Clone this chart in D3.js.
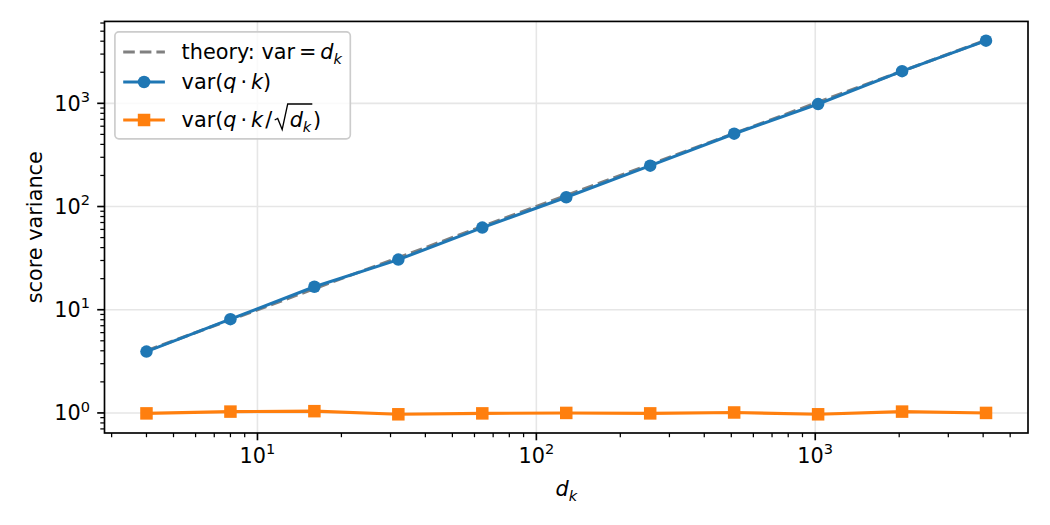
<!DOCTYPE html>
<html>
<head>
<meta charset="utf-8">
<script src="https://cdn.jsdelivr.net/npm/d3@7"></script>
<style>
  body { margin: 0; background: #fff; }
  svg text { font-family: "DejaVu Sans", sans-serif; fill: #000; }
</style>
</head>
<body>
<svg id="chart" width="1050" height="525"></svg>
<script>
// ---------- data
const dk = [4, 8, 16, 32, 64, 128, 256, 512, 1024, 2048, 4096];
const theoryVar = [4, 8, 16, 32, 64, 128, 256, 512, 1024, 2048, 4096];
const varRaw = [3.93, 8.1, 16.7, 30.6, 62.5, 123, 249, 508, 984, 2050, 4050];
const varScaled = [0.99, 1.03, 1.04, 0.97, 0.99, 1.0, 0.99, 1.01, 0.97, 1.03, 1.0];

const xMajor = [10, 100, 1000];
const yMajor = [1, 10, 100, 1000];

const blue = "#1f77b4", orange = "#ff7f0e", gray = "#808080";
const fs = 20.8; // 10pt @ 150dpi

// ---------- frame
const svg = d3.select("#chart");
const plotLeft = 104.5, plotRight = 1028, plotBottom = 433;

// matplotlib style 5% log margins
function logPad(lo, hi) {
  const a = Math.log10(lo), b = Math.log10(hi), p = (b - a) * 0.05;
  return [Math.pow(10, a - p), Math.pow(10, b + p)];
}
const xDom = logPad(d3.min(dk), d3.max(dk));
const allY = theoryVar.concat(varRaw, varScaled);
const yDom = logPad(d3.min(allY), d3.max(allY));

// keep ~103 px per decade like the reference
const perDecade = 103.2;
const plotTop = plotBottom - perDecade * (Math.log10(yDom[1]) - Math.log10(yDom[0]));

const x = d3.scaleLog().domain(xDom).range([plotLeft, plotRight]);
const y = d3.scaleLog().domain(yDom).range([plotBottom, plotTop]);

function minorTicks(dom) {
  const out = [];
  for (let e = Math.floor(Math.log10(dom[0])); e <= Math.ceil(Math.log10(dom[1])); e++) {
    for (let k = 2; k <= 9; k++) {
      const v = k * Math.pow(10, e);
      if (v >= dom[0] && v <= dom[1]) out.push(v);
    }
  }
  return out;
}

// ---------- grid
const grid = svg.append("g");
grid.selectAll(".gx").data(xMajor).join("line")
  .attr("x1", d => x(d)).attr("x2", d => x(d)).attr("y1", plotTop).attr("y2", plotBottom)
  .attr("stroke", "#e6e6e6").attr("stroke-width", 1.6);
grid.selectAll(".gy").data(yMajor).join("line")
  .attr("y1", d => y(d)).attr("y2", d => y(d)).attr("x1", plotLeft).attr("x2", plotRight)
  .attr("stroke", "#e6e6e6").attr("stroke-width", 1.6);

// ---------- lines
const line = (ys) => d3.line().x((d, i) => x(dk[i])).y(d => y(d))(ys);

svg.append("path").attr("d", line(theoryVar))
  .attr("fill", "none").attr("stroke", gray).attr("stroke-width", 3.1)
  .attr("stroke-dasharray", "11.6 5");

svg.append("path").attr("d", line(varRaw))
  .attr("fill", "none").attr("stroke", blue).attr("stroke-width", 3.1)
  .attr("stroke-linejoin", "round").attr("stroke-linecap", "square");
svg.selectAll(".dot").data(varRaw).join("circle")
  .attr("cx", (d, i) => x(dk[i])).attr("cy", d => y(d)).attr("r", 6.25)
  .attr("fill", blue);

svg.append("path").attr("d", line(varScaled))
  .attr("fill", "none").attr("stroke", orange).attr("stroke-width", 3.1)
  .attr("stroke-linejoin", "round").attr("stroke-linecap", "square");
svg.selectAll(".sq").data(varScaled).join("rect")
  .attr("x", (d, i) => x(dk[i]) - 6.25).attr("y", d => y(d) - 6.25)
  .attr("width", 12.5).attr("height", 12.5).attr("fill", orange);

// ---------- spines & ticks
svg.append("rect").attr("x", plotLeft).attr("y", plotTop)
  .attr("width", plotRight - plotLeft).attr("height", plotBottom - plotTop)
  .attr("fill", "none").attr("stroke", "#000").attr("stroke-width", 1.67);

const ticks = svg.append("g").attr("stroke", "#000");
ticks.selectAll(".xM").data(xMajor).join("line")
  .attr("x1", d => x(d)).attr("x2", d => x(d)).attr("y1", plotBottom).attr("y2", plotBottom + 7.3)
  .attr("stroke-width", 1.67);
ticks.selectAll(".xm").data(minorTicks(xDom)).join("line")
  .attr("x1", d => x(d)).attr("x2", d => x(d)).attr("y1", plotBottom).attr("y2", plotBottom + 4.2)
  .attr("stroke-width", 1.25);
ticks.selectAll(".yM").data(yMajor).join("line")
  .attr("y1", d => y(d)).attr("y2", d => y(d)).attr("x1", plotLeft).attr("x2", plotLeft - 7.3)
  .attr("stroke-width", 1.67);
ticks.selectAll(".ym").data(minorTicks(yDom)).join("line")
  .attr("y1", d => y(d)).attr("y2", d => y(d)).attr("x1", plotLeft).attr("x2", plotLeft - 4.2)
  .attr("stroke-width", 1.25);

// ---------- little mathtext helper: lays pieces out one after another
function mathText(g, x0, y0, parts) {
  let cx = x0;
  parts.forEach(p => {
    p.x0 = cx;
    if (p.gap) { cx += p.gap * fs; p.x1 = cx; return; }
    const t = g.append("text")
      .attr("x", cx).attr("y", y0 + (p.dy || 0) * fs)
      .style("font-size", (fs * (p.scale || 1)) + "px")
      .style("font-style", p.it ? "italic" : "normal")
      .text(p.t);
    cx += t.node().getComputedTextLength();
    p.x1 = cx;
  });
  return cx - x0;
}

function powLabel(v) {
  const e = Math.round(Math.log10(v));
  return [{ t: "10" }, { t: String(e), scale: 0.7, dy: -0.42 }];
}

// x tick labels
xMajor.forEach(v => {
  const g = svg.append("g");
  const w = mathText(g, 0, 0, powLabel(v));
  g.attr("transform", `translate(${x(v) - w / 2},${plotBottom + 30})`);
});
// y tick labels
yMajor.forEach(v => {
  const g = svg.append("g");
  const w = mathText(g, 0, 0, powLabel(v));
  g.attr("transform", `translate(${plotLeft - 14.6 - w},${y(v) + 7.5})`);
});

// axis labels
{
  const g = svg.append("g");
  const parts = [{ t: "d", it: true }, { t: "k", it: true, scale: 0.7, dy: 0.22 }];
  const w = mathText(g, 0, 0, parts);
  g.attr("transform", `translate(${(plotLeft + plotRight) / 2 - w / 2},${plotBottom + 63})`);
}
svg.append("text")
  .attr("transform", `translate(42,${(plotTop + plotBottom) / 2}) rotate(-90)`)
  .attr("text-anchor", "middle")
  .style("font-size", fs + "px")
  .text("score variance");

// ---------- legend
const lg = svg.append("g");
const lx = plotLeft + 10.4, ly = plotTop + 10.4;
const box = lg.append("rect").attr("x", lx).attr("y", ly).attr("height", 107)
  .attr("rx", 4).attr("fill", "#fff").attr("fill-opacity", 0.8)
  .attr("stroke", "#cccccc").attr("stroke-width", 1.67);

const hx0 = lx + 8.3, hx1 = hx0 + 41.7, tx = hx1 + 16.7;
const rows = [52, 82, 120];

lg.append("line").attr("x1", hx0).attr("x2", hx1).attr("y1", rows[0]).attr("y2", rows[0])
  .attr("stroke", gray).attr("stroke-width", 3.1).attr("stroke-dasharray", "11.6 5");
lg.append("line").attr("x1", hx0).attr("x2", hx1).attr("y1", rows[1]).attr("y2", rows[1])
  .attr("stroke", blue).attr("stroke-width", 3.1);
lg.append("circle").attr("cx", (hx0 + hx1) / 2).attr("cy", rows[1]).attr("r", 6.25).attr("fill", blue);
lg.append("line").attr("x1", hx0).attr("x2", hx1).attr("y1", rows[2]).attr("y2", rows[2])
  .attr("stroke", orange).attr("stroke-width", 3.1);
lg.append("rect").attr("x", (hx0 + hx1) / 2 - 6.25).attr("y", rows[2] - 6.25)
  .attr("width", 12.5).attr("height", 12.5).attr("fill", orange);

const w1 = mathText(lg, tx, rows[0] + 7, [
  { t: "theory: var" }, { gap: 0.19 }, { t: "=" }, { gap: 0.19 },
  { t: "d", it: true }, { t: "k", it: true, scale: 0.7, dy: 0.22 }
]);
const w2 = mathText(lg, tx, rows[1] + 7, [
  { t: "var(" }, { t: "q", it: true }, { gap: 0.19 }, { t: "·" }, { gap: 0.19 },
  { t: "k", it: true }, { t: ")" }
]);
const base3 = rows[2] + 7;
const p3 = [
  { t: "var(" }, { t: "q", it: true }, { gap: 0.19 }, { t: "·" }, { gap: 0.19 },
  { t: "k", it: true }, { gap: 0.1 }, { t: "/" }, { gap: 0.12 },
  { gap: 0.72 }, { t: "d", it: true }, { t: "k", it: true, scale: 0.7, dy: 0.22 },
  { gap: 0.08 }, { t: ")" }
];
const w3 = mathText(lg, tx, base3, p3);
// radical sign with its bar over d_k
{
  const r0 = p3[9].x0, rEnd = p3[11].x1 + 1;
  const rad = [
    [r0, base3 - 7], [r0 + 3, base3 - 8.5], [r0 + 7.5, base3 + 2.5],
    [r0 + 13, base3 - 23], [rEnd, base3 - 23]
  ];
  lg.append("path").attr("d", d3.line()(rad))
    .attr("fill", "none").attr("stroke", "#000").attr("stroke-width", 1.3)
    .attr("stroke-linejoin", "miter");
}
box.attr("width", (tx + d3.max([w1, w2, w3]) + 8.3) - lx);
</script>
</body>
</html>
